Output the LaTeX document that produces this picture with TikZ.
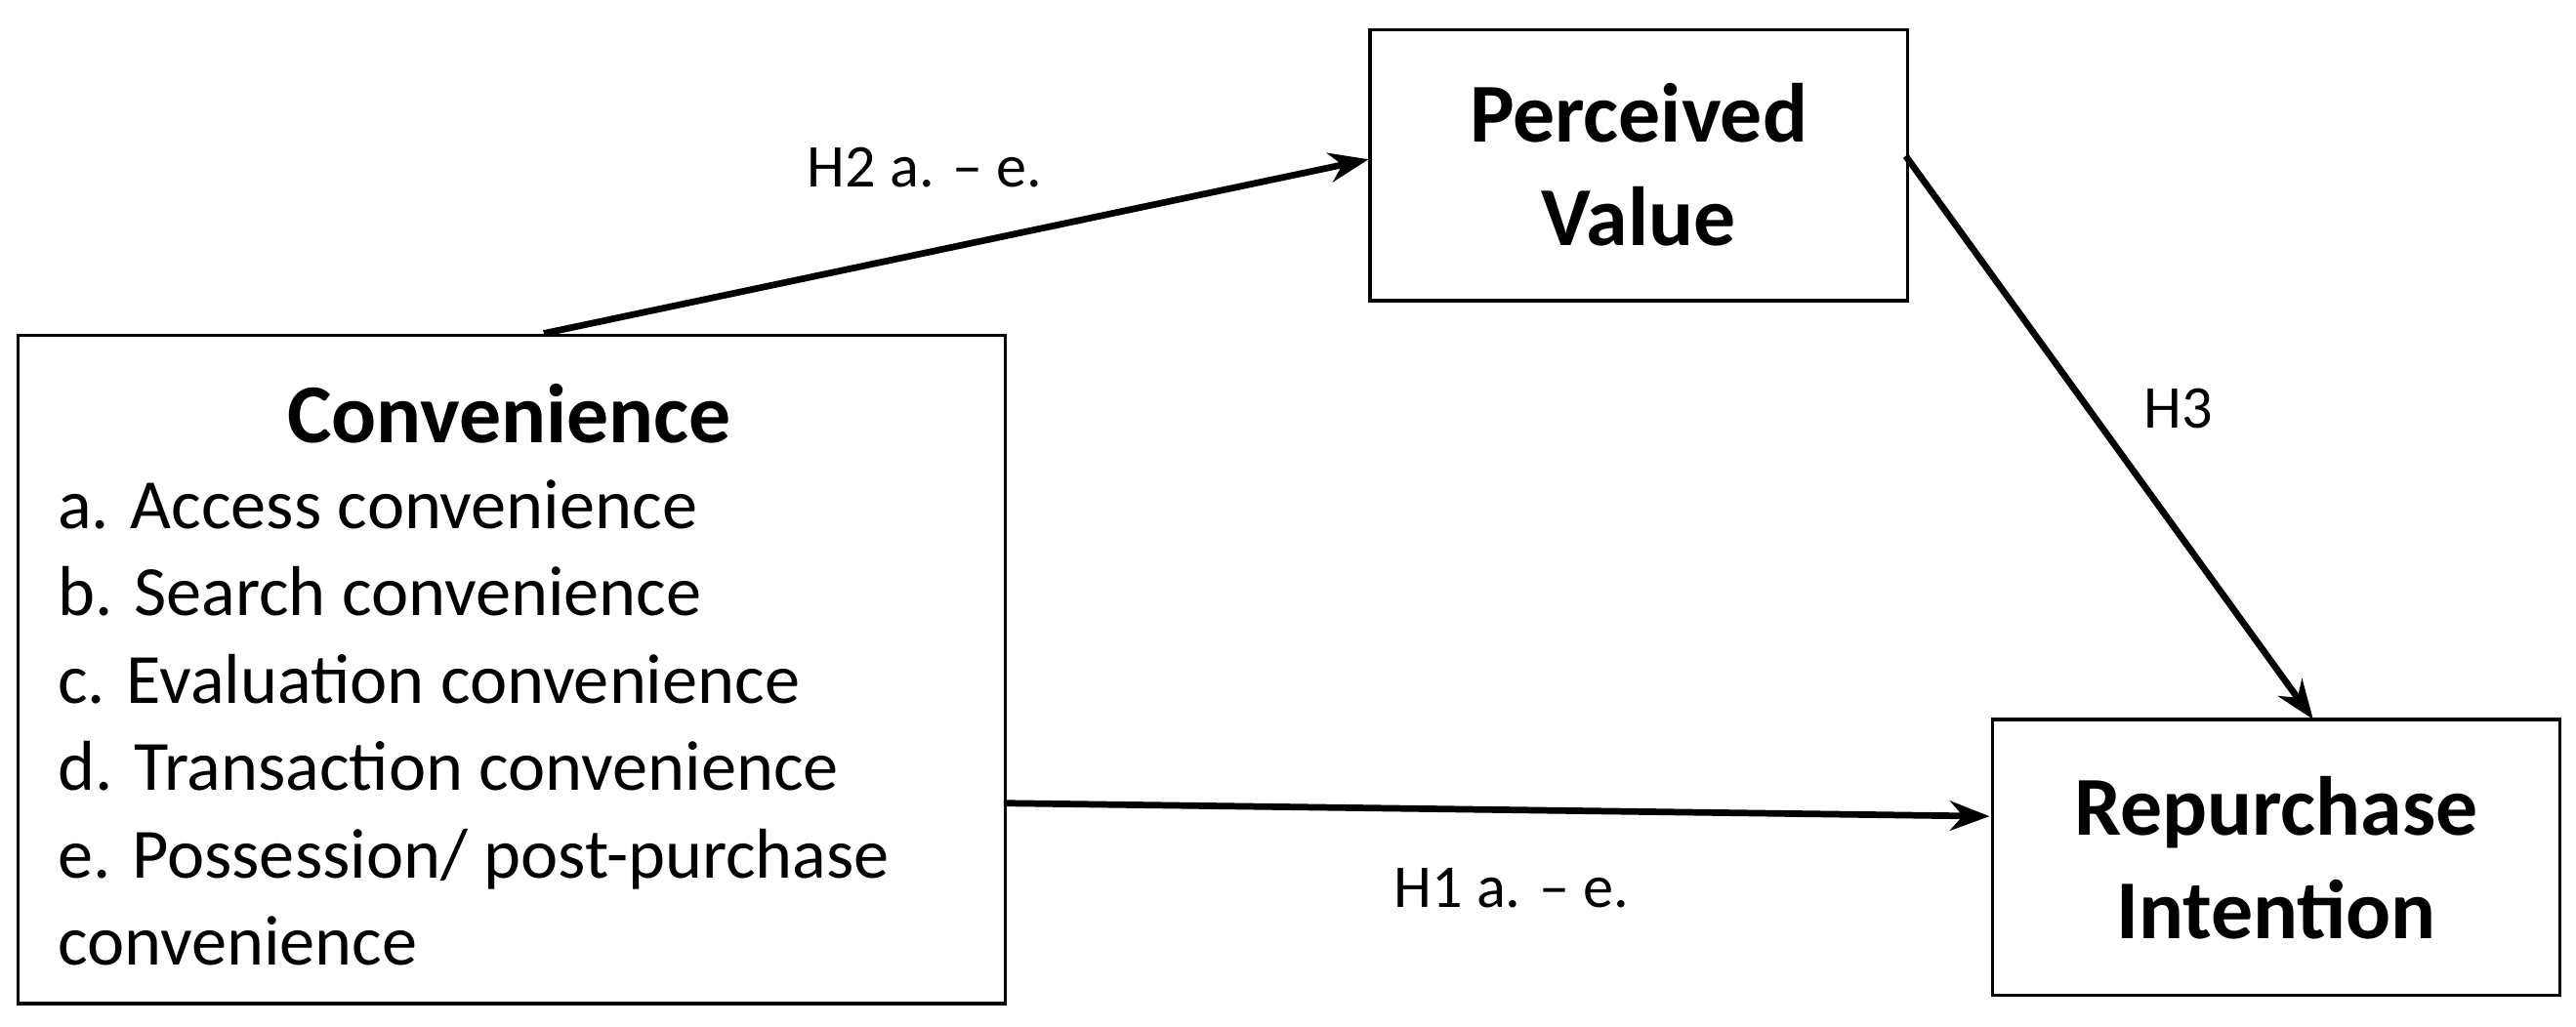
\documentclass[tikz,border=0pt]{standalone}
\usepackage{fontspec}
\setmainfont{Carlito}
\usetikzlibrary{arrows.meta}
\begin{document}
\begin{tikzpicture}[x=1pt,y=-1pt,
  box/.style={draw,line width=2pt,inner sep=0pt},
  arr/.style={line width=4pt,-{Stealth[length=24pt,width=18pt]}},
  head/.style={font=\bfseries\fontsize{51}{63}\selectfont,align=center},
  lab/.style={font=\fontsize{37}{44}\selectfont}]
\useasboundingbox (0,0) rectangle (1568,625);
\node[box,minimum width=601,minimum height=407,anchor=north west] (conv) at (10,203) {};
\node[head] (convt) at (310,252) {Convenience};
\node[anchor=north west,align=left,inner sep=0pt,font=\fontsize{43}{53.2}\selectfont] (items) at (35,292)
 {a. Access convenience\\b. Search convenience\\c. Evaluation convenience\\d. Transaction convenience\\e. Possession/ post-purchase\\convenience};
\node[box,minimum width=327,minimum height=165,anchor=north west] (pv) at (833,17) {};
\node[head] at (pv.center) {Perceived\\Value};
\node[box,minimum width=345,minimum height=168,anchor=north west] (ri) at (1212,437) {};
\node[head] at (ri.center) {Repurchase\\Intention};
\coordinate (a1) at (331,203);
\coordinate (a2) at (833,97);
\coordinate (b1) at (1160,95);
\coordinate (b2) at (1408,438);
\coordinate (c1) at (611,489);
\coordinate (c2) at (1211,497);
\draw[arr] (a1) -- (a2);
\draw[arr] (b1) -- (b2);
\draw[arr] (c1) -- (c2);
\node[lab] (h2) at (563,102) {H2 a. -- e.};
\node[lab] (h3) at (1326,249) {H3};
\node[lab] (h1) at (920,541) {H1 a. -- e.};
\end{tikzpicture}
\end{document}
